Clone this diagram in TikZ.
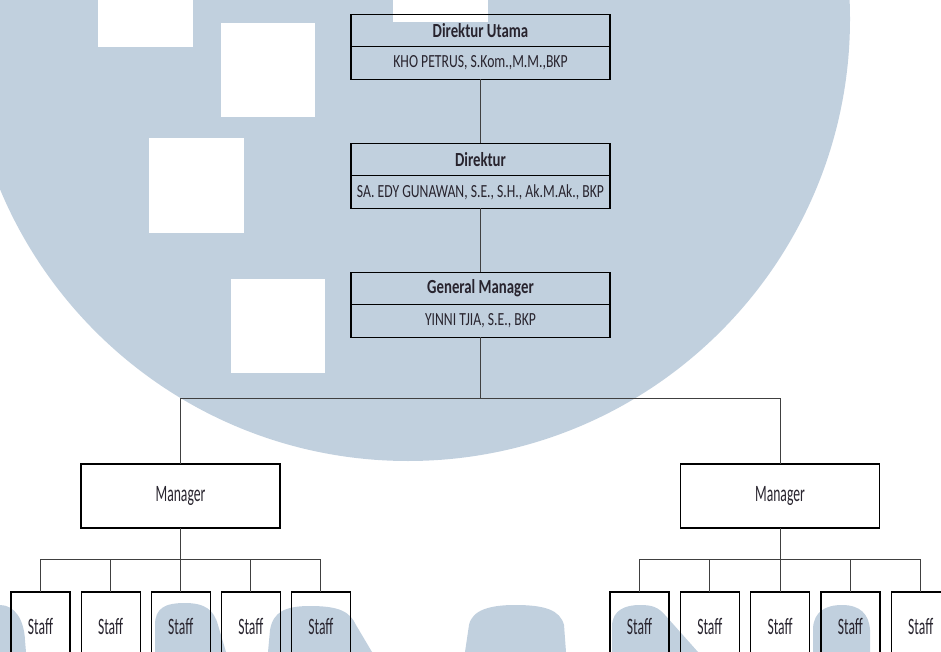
\documentclass[tikz,border=0pt]{standalone}
\usepackage{fontspec}
\setmainfont{Carlito}
\newfontfamily\boxfont[FakeStretch=0.74]{Carlito}
\newfontfamily\stafffont[FakeStretch=0.58]{Carlito}
\usetikzlibrary{positioning}
\definecolor{logoblue}{RGB}{193,208,222}
\definecolor{inkgray}{RGB}{40,36,46}

\begin{document}
\begin{tikzpicture}[x=1pt,y=1pt,align=center,inner sep=0pt]
\tikzstyle{posbox}=[draw=black,line width=1.2pt,outer sep=0pt,minimum width=259pt,minimum height=32.5pt,text=inkgray,font=\boxfont\fontsize{20}{22}\selectfont\bfseries]
\tikzstyle{holderbox}=[posbox,font=\boxfont\fontsize{18.5}{20}\selectfont]
\tikzstyle{mgrbox}=[draw=black,line width=1.2pt,outer sep=0pt,minimum width=199pt,minimum height=64pt,text=inkgray,font=\stafffont\fontsize{23.5}{25}\selectfont]
\tikzstyle{staffbox}=[mgrbox,minimum width=59pt,minimum height=68pt]
\tikzstyle{link}=[-,line width=0.9pt,draw=black!75]

\useasboundingbox (0,0) rectangle (941,-652);
\clip (0,0) rectangle (941,-652);

\fill[logoblue] (408,-19) circle (442);
\fill[white] (98,0) rectangle (193,-47);
\fill[white] (221,-23) rectangle (315,-117);
\fill[white] (149,-138) rectangle (244,-233);
\fill[white] (231,-279) rectangle (325,-373);
\fill[white] (393,0) rectangle (488,-22);
\fill[logoblue] (0,-652) -- (0,-605) .. controls (15,-605) and (24,-620) .. (25,-640) -- (26,-652) -- cycle;
\fill[logoblue] (155,-652) -- (155,-625) .. controls (155,-608) and (165,-603) .. (185,-603) .. controls (205,-603) and (214,-610) .. (218,-625) -- (226,-652) -- cycle;
\fill[logoblue] (268,-652) -- (270,-630) .. controls (273,-612) and (285,-606) .. (310,-606) .. controls (340,-606) and (350,-612) .. (356,-625) -- (372,-652) -- cycle;
\fill[logoblue] (465,-652) -- (469,-625) .. controls (472,-610) and (490,-605) .. (515,-605) .. controls (545,-605) and (560,-610) .. (564,-625) -- (566,-652) -- cycle;
\fill[logoblue] (612,-652) -- (612,-625) .. controls (613,-610) and (625,-605) .. (640,-605) .. controls (652,-605) and (658,-607) .. (665,-615) -- (698,-652) -- cycle;
\fill[logoblue] (813,-652) -- (813,-628) .. controls (814,-612) and (825,-605) .. (842,-605) .. controls (860,-605) and (869,-614) .. (870,-630) -- (870,-652) -- cycle;

\node[posbox] (dirut) at (480.5,-30.5) {Direktur Utama};
\node[holderbox] (dirutname) [below = 0pt of dirut] {KHO PETRUS, S.Kom.,M.M.,BKP};
\node[posbox] (dir) [below = 64pt of dirutname] {Direktur};
\node[holderbox] (dirname) [below = 0pt of dir] {SA. EDY GUNAWAN, S.E., S.H., Ak.M.Ak., BKP};
\node[posbox] (gm) [below = 64pt of dirname] {General Manager};
\node[holderbox] (gmname) [below = 0pt of gm] {YINNI TJIA, S.E., BKP};

\node[mgrbox] (mgrl) at (180.5,-496) {Manager};
\node[mgrbox] (mgrr) at (780,-496) {Manager};

\draw[link] (dirutname) -- (dir);
\draw[link] (dirname) -- (gm);
\draw[link] (gmname.south) -- ++(0,-61) -| (mgrl.north);
\draw[link] (gmname.south) -- ++(0,-61) -| (mgrr.north);

\foreach \i in {0,...,4} {
  \node[staffbox] (sl\i) at ({40.5+70.1*\i},-626) {Staff};
  \node[staffbox] (sr\i) at ({639.5+70.3*\i},-626) {Staff};
  \draw[link] (mgrl.south) -- ++(0,-31) -| (sl\i.north);
  \draw[link] (mgrr.south) -- ++(0,-31) -| (sr\i.north);
}
\end{tikzpicture}
\end{document}
